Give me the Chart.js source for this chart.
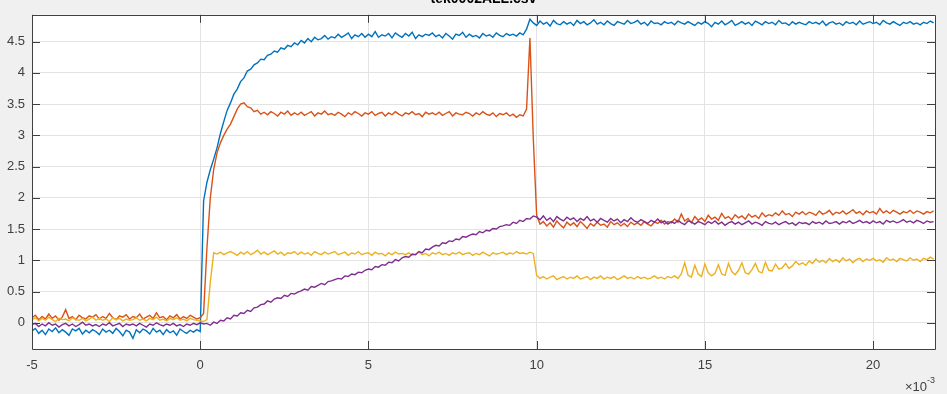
<!DOCTYPE html>
<html>
<head>
<meta charset="utf-8">
<title>tek0002ALL.csv</title>
<script src="https://cdn.jsdelivr.net/npm/chart.js@4.4.1/dist/chart.umd.min.js"></script>
<style>
  html, body { margin: 0; padding: 0; background: #f0f0f0; }
  #wrap { width: 947px; height: 394px; }
</style>
</head>
<body>
<div id="wrap"><canvas id="scope" width="947" height="394"></canvas></div>
<script>
// sample times in ms (axis shows them as x 10^-3 s)
const timeMs = [
  -5.0,-4.9,-4.8,-4.7,-4.6,-4.5,-4.4,-4.3,-4.2,-4.1,
  -4.0,-3.9,-3.8,-3.7,-3.6,-3.5,-3.4,-3.3,-3.2,-3.1,
  -3.0,-2.9,-2.8,-2.7,-2.6,-2.5,-2.4,-2.3,-2.2,-2.1,
  -2.0,-1.9,-1.8,-1.7,-1.6,-1.5,-1.4,-1.3,-1.2,-1.1,
  -1.0,-0.9,-0.8,-0.7,-0.6,-0.5,-0.4,-0.3,-0.2,-0.1,
  0.0,0.1,0.2,0.3,0.4,0.5,0.6,0.7,0.8,0.9,
  1.0,1.1,1.2,1.3,1.4,1.5,1.6,1.7,1.8,1.9,
  2.0,2.1,2.2,2.3,2.4,2.5,2.6,2.7,2.8,2.9,
  3.0,3.1,3.2,3.3,3.4,3.5,3.6,3.7,3.8,3.9,
  4.0,4.1,4.2,4.3,4.4,4.5,4.6,4.7,4.8,4.9,
  5.0,5.1,5.2,5.3,5.4,5.5,5.6,5.7,5.8,5.9,
  6.0,6.1,6.2,6.3,6.4,6.5,6.6,6.7,6.8,6.9,
  7.0,7.1,7.2,7.3,7.4,7.5,7.6,7.7,7.8,7.9,
  8.0,8.1,8.2,8.3,8.4,8.5,8.6,8.7,8.8,8.9,
  9.0,9.1,9.2,9.3,9.4,9.5,9.6,9.7,9.8,9.9,
  10.0,10.1,10.2,10.3,10.4,10.5,10.6,10.7,10.8,10.9,
  11.0,11.1,11.2,11.3,11.4,11.5,11.6,11.7,11.8,11.9,
  12.0,12.1,12.2,12.3,12.4,12.5,12.6,12.7,12.8,12.9,
  13.0,13.1,13.2,13.3,13.4,13.5,13.6,13.7,13.8,13.9,
  14.0,14.1,14.2,14.3,14.4,14.5,14.6,14.7,14.8,14.9,
  15.0,15.1,15.2,15.3,15.4,15.5,15.6,15.7,15.8,15.9,
  16.0,16.1,16.2,16.3,16.4,16.5,16.6,16.7,16.8,16.9,
  17.0,17.1,17.2,17.3,17.4,17.5,17.6,17.7,17.8,17.9,
  18.0,18.1,18.2,18.3,18.4,18.5,18.6,18.7,18.8,18.9,
  19.0,19.1,19.2,19.3,19.4,19.5,19.6,19.7,19.8,19.9,
  20.0,20.1,20.2,20.3,20.4,20.5,20.6,20.7,20.8,20.9,
  21.0,21.1,21.2,21.3,21.4,21.5,21.6,21.7,21.8
];

const ch1 = [
  -0.13,-0.09,-0.17,-0.12,-0.19,-0.10,-0.14,-0.08,-0.16,-0.11,
  -0.15,-0.20,-0.10,-0.13,-0.09,-0.18,-0.12,-0.16,-0.11,-0.14,
  -0.19,-0.10,-0.15,-0.12,-0.17,-0.09,-0.14,-0.21,-0.12,-0.15,
  -0.25,-0.11,-0.16,-0.10,-0.13,-0.18,-0.09,-0.15,-0.12,-0.19,
  -0.11,-0.16,-0.13,-0.20,-0.10,-0.14,-0.17,-0.12,-0.15,-0.11,
  -0.14,1.95,2.25,2.45,2.62,2.80,3.03,3.22,3.40,3.52,
  3.66,3.74,3.86,3.92,4.03,4.06,4.13,4.16,4.22,4.21,
  4.28,4.30,4.35,4.33,4.40,4.38,4.44,4.42,4.48,4.45,
  4.52,4.48,4.55,4.50,4.57,4.53,4.55,4.60,4.54,4.58,
  4.56,4.62,4.57,4.60,4.64,4.55,4.61,4.58,4.63,4.57,
  4.62,4.58,4.66,4.57,4.61,4.59,4.63,4.56,4.64,4.60,
  4.57,4.63,4.59,4.65,4.55,4.61,4.58,4.62,4.60,4.64,
  4.58,4.61,4.56,4.63,4.59,4.54,4.62,4.60,4.65,4.57,
  4.62,4.58,4.60,4.56,4.63,4.59,4.61,4.57,4.64,4.60,
  4.58,4.63,4.60,4.62,4.59,4.64,4.61,4.70,4.86,4.80,
  4.76,4.83,4.78,4.81,4.75,4.84,4.79,4.77,4.82,4.78,
  4.81,4.76,4.84,4.79,4.82,4.77,4.80,4.85,4.78,4.81,
  4.77,4.83,4.79,4.76,4.82,4.80,4.78,4.84,4.79,4.81,
  4.84,4.78,4.81,4.76,4.83,4.79,4.80,4.77,4.82,4.79,
  4.81,4.77,4.83,4.80,4.78,4.82,4.79,4.76,4.81,4.78,
  4.82,4.79,4.74,4.81,4.78,4.83,4.77,4.80,4.84,4.76,
  4.79,4.82,4.78,4.81,4.76,4.83,4.80,4.77,4.82,4.79,
  4.81,4.77,4.84,4.79,4.80,4.76,4.82,4.78,4.81,4.79,
  4.77,4.82,4.79,4.81,4.78,4.83,4.76,4.80,4.82,4.78,
  4.80,4.76,4.82,4.79,4.81,4.77,4.83,4.78,4.80,4.82,
  4.79,4.81,4.77,4.84,4.80,4.78,4.82,4.79,4.76,4.81,
  4.79,4.82,4.78,4.80,4.77,4.81,4.79,4.83,4.80
];

const ch2 = [
  0.08,0.12,0.05,0.10,0.06,0.14,0.07,0.11,0.04,0.09,
  0.21,0.07,0.10,0.05,0.12,0.08,0.06,0.11,0.09,0.13,
  0.06,0.10,0.07,0.15,0.08,0.05,0.11,0.09,0.13,0.06,
  0.10,0.08,0.14,0.06,0.09,0.12,0.07,0.16,0.08,0.10,
  0.05,0.11,0.08,0.13,0.06,0.10,0.07,0.12,0.09,0.06,
  0.08,0.15,1.20,2.00,2.45,2.72,2.88,3.00,3.10,3.18,
  3.30,3.42,3.50,3.52,3.46,3.44,3.38,3.40,3.34,3.37,
  3.33,3.38,3.35,3.31,3.37,3.34,3.39,3.32,3.36,3.33,
  3.37,3.32,3.35,3.38,3.31,3.36,3.34,3.39,3.33,3.35,
  3.32,3.37,3.34,3.30,3.36,3.33,3.38,3.35,3.31,3.36,
  3.34,3.38,3.32,3.35,3.37,3.31,3.36,3.33,3.38,3.34,
  3.31,3.36,3.34,3.38,3.33,3.35,3.30,3.37,3.34,3.36,
  3.33,3.37,3.32,3.35,3.38,3.31,3.36,3.34,3.33,3.37,
  3.35,3.31,3.36,3.33,3.38,3.34,3.32,3.36,3.30,3.35,
  3.33,3.36,3.31,3.34,3.29,3.33,3.31,3.42,4.56,2.95,
  1.72,1.58,1.62,1.55,1.60,1.53,1.63,1.57,1.52,1.61,
  1.56,1.60,1.54,1.62,1.57,1.51,1.59,1.55,1.61,1.56,
  1.58,1.53,1.62,1.57,1.60,1.55,1.59,1.54,1.61,1.57,
  1.60,1.56,1.62,1.58,1.55,1.61,1.59,1.64,1.58,1.62,
  1.60,1.66,1.61,1.74,1.63,1.67,1.60,1.70,1.64,1.68,
  1.62,1.72,1.66,1.69,1.64,1.75,1.67,1.70,1.65,1.73,
  1.68,1.71,1.66,1.74,1.69,1.72,1.67,1.76,1.70,1.73,
  1.71,1.76,1.72,1.79,1.73,1.75,1.70,1.77,1.74,1.78,
  1.73,1.77,1.75,1.72,1.79,1.74,1.76,1.80,1.73,1.77,
  1.75,1.79,1.74,1.77,1.81,1.75,1.78,1.73,1.79,1.76,
  1.78,1.74,1.83,1.76,1.79,1.75,1.80,1.77,1.74,1.78,
  1.76,1.80,1.75,1.79,1.77,1.74,1.78,1.76,1.79
];

const ch3 = [
  0.05,0.08,0.03,0.07,0.04,0.09,0.05,0.02,0.07,0.05,
  0.06,0.03,0.08,0.05,0.04,0.07,0.03,0.06,0.09,0.04,
  0.07,0.04,0.06,0.02,0.08,0.05,0.07,0.03,0.06,0.04,
  0.05,0.08,0.04,0.06,0.03,0.07,0.05,0.09,0.04,0.06,
  0.03,0.07,0.05,0.08,0.04,0.06,0.03,0.07,0.05,0.04,
  0.03,0.02,0.05,0.65,1.12,1.10,1.13,1.09,1.12,1.14,
  1.11,1.08,1.13,1.10,1.14,1.09,1.12,1.16,1.10,1.13,
  1.09,1.12,1.15,1.10,1.13,1.08,1.12,1.11,1.14,1.09,
  1.13,1.10,1.12,1.08,1.14,1.11,1.09,1.13,1.10,1.12,
  1.14,1.09,1.11,1.13,1.08,1.12,1.10,1.14,1.09,1.11,
  1.12,1.08,1.13,1.10,1.11,1.07,1.12,1.09,1.13,1.10,
  1.11,1.09,1.12,1.08,1.10,1.13,1.09,1.11,1.07,1.12,
  1.10,1.13,1.09,1.11,1.08,1.12,1.10,1.13,1.09,1.11,
  1.12,1.08,1.11,1.09,1.13,1.10,1.07,1.12,1.10,1.11,
  1.13,1.09,1.12,1.10,1.14,1.11,1.12,1.10,1.13,1.11,
  0.76,0.71,0.74,0.70,0.73,0.75,0.69,0.72,0.74,0.70,
  0.73,0.71,0.75,0.70,0.72,0.74,0.69,0.73,0.71,0.75,
  0.70,0.73,0.71,0.74,0.69,0.72,0.75,0.71,0.73,0.70,
  0.74,0.71,0.73,0.70,0.72,0.75,0.71,0.73,0.70,0.74,
  0.72,0.75,0.71,0.78,0.96,0.76,0.73,0.92,0.78,0.74,
  0.94,0.80,0.75,0.79,0.93,0.78,0.76,0.95,0.82,0.77,
  0.84,0.96,0.80,0.78,0.85,0.95,0.82,0.80,0.97,0.84,
  0.83,0.94,0.86,0.88,0.95,0.87,0.91,0.98,0.93,0.96,
  0.92,0.99,0.95,1.02,0.97,1.00,0.96,1.03,0.98,1.01,
  0.97,1.04,0.99,1.02,0.96,1.01,1.03,0.98,1.02,1.00,
  1.03,0.99,1.01,0.97,1.04,1.00,1.02,0.98,1.03,1.01,
  0.99,1.04,1.00,1.02,0.98,1.03,1.01,1.05,1.02
];

const ch4 = [
  -0.03,-0.01,-0.06,-0.02,-0.05,0.00,-0.04,-0.02,-0.07,-0.03,
  -0.01,-0.05,-0.02,-0.06,-0.03,0.01,-0.04,-0.02,-0.05,-0.03,
  -0.06,-0.02,-0.04,0.00,-0.05,-0.03,-0.01,-0.06,-0.02,-0.04,
  -0.02,-0.05,-0.01,-0.04,-0.07,-0.02,-0.04,0.00,-0.03,-0.05,
  -0.02,-0.04,-0.01,-0.05,-0.03,-0.06,-0.02,-0.04,-0.01,-0.03,
  0.00,-0.02,-0.01,-0.04,0.01,-0.01,0.04,0.03,0.08,0.06,
  0.12,0.11,0.16,0.15,0.20,0.18,0.24,0.25,0.29,0.30,
  0.35,0.33,0.38,0.40,0.39,0.44,0.42,0.47,0.46,0.49,
  0.51,0.54,0.52,0.58,0.57,0.60,0.63,0.61,0.66,0.67,
  0.69,0.71,0.70,0.75,0.74,0.78,0.77,0.81,0.80,0.84,
  0.86,0.85,0.90,0.89,0.93,0.92,0.97,0.96,1.01,0.99,
  1.04,1.06,1.05,1.10,1.09,1.14,1.12,1.18,1.17,1.21,
  1.24,1.23,1.28,1.27,1.31,1.30,1.34,1.33,1.38,1.37,
  1.40,1.42,1.41,1.46,1.44,1.48,1.47,1.51,1.50,1.54,
  1.55,1.57,1.56,1.61,1.59,1.64,1.62,1.67,1.66,1.71,
  1.69,1.65,1.71,1.64,1.68,1.62,1.70,1.66,1.63,1.69,
  1.65,1.68,1.62,1.67,1.64,1.70,1.63,1.66,1.61,1.67,
  1.64,1.61,1.67,1.63,1.66,1.60,1.65,1.62,1.68,1.63,
  1.61,1.65,1.62,1.59,1.64,1.61,1.66,1.60,1.63,1.58,
  1.62,1.59,1.64,1.60,1.57,1.63,1.61,1.58,1.62,1.60,
  1.57,1.62,1.59,1.63,1.58,1.61,1.56,1.60,1.62,1.58,
  1.61,1.57,1.60,1.63,1.58,1.61,1.59,1.56,1.62,1.59,
  1.58,1.61,1.57,1.60,1.62,1.58,1.60,1.56,1.61,1.59,
  1.60,1.57,1.62,1.59,1.61,1.58,1.63,1.59,1.60,1.62,
  1.58,1.62,1.60,1.63,1.59,1.61,1.64,1.60,1.62,1.59,
  1.63,1.60,1.62,1.58,1.64,1.61,1.63,1.60,1.62,1.65,
  1.61,1.63,1.60,1.64,1.62,1.59,1.63,1.61,1.62
];

const xTicks = [-5, 0, 5, 10, 15, 20];
const yTicks = [0, 0.5, 1, 1.5, 2, 2.5, 3, 3.5, 4, 4.5];
const plotTitle = 'tek0002ALL.csv';
const xExponent = '-3';

const textColor = '#404040';
const tickFont = { family: 'Liberation Sans, Arial, sans-serif', size: 13 };

function pts(vals) {
  return vals.map((v, i) => ({ x: timeMs[i], y: v }));
}

// white plot area, box with inward ticks, title and the x10^-3 label
const matlabAxes = {
  id: 'matlabAxes',
  beforeDraw(chart) {
    const { ctx, chartArea: a } = chart;
    ctx.save();
    ctx.fillStyle = '#ffffff';
    ctx.fillRect(a.left, a.top, a.right - a.left, a.bottom - a.top);
    ctx.restore();
  },
  afterDraw(chart) {
    const { ctx, chartArea: a, scales } = chart;
    const len = 8;
    ctx.save();
    ctx.strokeStyle = '#404040';
    ctx.lineWidth = 1;
    ctx.beginPath();
    ctx.rect(Math.round(a.left) + 0.5, Math.round(a.top) + 0.5,
             Math.round(a.right - a.left), Math.round(a.bottom - a.top));
    xTicks.forEach(t => {
      const px = Math.round(scales.x.getPixelForValue(t)) + 0.5;
      ctx.moveTo(px, a.bottom); ctx.lineTo(px, a.bottom - len);
      ctx.moveTo(px, a.top); ctx.lineTo(px, a.top + len);
    });
    yTicks.forEach(t => {
      const py = Math.round(scales.y.getPixelForValue(t)) + 0.5;
      ctx.moveTo(a.left, py); ctx.lineTo(a.left + len, py);
      ctx.moveTo(a.right, py); ctx.lineTo(a.right - len, py);
    });
    ctx.stroke();

    ctx.fillStyle = '#000000';
    ctx.font = 'bold 14px Liberation Sans, Arial, sans-serif';
    ctx.textAlign = 'center';
    ctx.textBaseline = 'alphabetic';
    ctx.fillText(plotTitle, (a.left + a.right) / 2, 3);

    ctx.fillStyle = textColor;
    ctx.textAlign = 'right';
    ctx.font = '9px Liberation Sans, Arial, sans-serif';
    const supW = ctx.measureText(xExponent).width;
    ctx.fillText(xExponent, a.right, 383);
    ctx.font = '13px Liberation Sans, Arial, sans-serif';
    ctx.fillText('\u00d710', a.right - supW, 391);
    ctx.restore();
  }
};

new Chart(document.getElementById('scope'), {
  type: 'line',
  data: {
    datasets: [
      { label: 'CH1', data: pts(ch1), borderColor: '#0072BD', order: 4 },
      { label: 'CH2', data: pts(ch2), borderColor: '#D95319', order: 3 },
      { label: 'CH3', data: pts(ch3), borderColor: '#EDB120', order: 2 },
      { label: 'CH4', data: pts(ch4), borderColor: '#7E2F8E', order: 1 }
    ]
  },
  options: {
    responsive: false,
    animation: false,
    events: [],
    layout: { padding: { left: 0, top: 7, right: 12, bottom: 0 } },
    elements: {
      line: { borderWidth: 1.4, tension: 0, fill: false },
      point: { radius: 0 }
    },
    plugins: {
      legend: { display: false },
      tooltip: { enabled: false },
      title: { display: false }
    },
    scales: {
      x: {
        type: 'linear',
        min: -5,
        max: 21.84,
        afterBuildTicks: s => { s.ticks = xTicks.map(v => ({ value: v })); },
        afterFit: s => { s.height = 45; },
        grid: { color: '#e3e3e3', drawTicks: false },
        border: { display: false },
        ticks: { padding: 9, color: textColor, font: tickFont, maxRotation: 0,
                 callback: v => String(v) }
      },
      y: {
        type: 'linear',
        min: -0.42,
        max: 4.93,
        afterBuildTicks: s => { s.ticks = yTicks.map(v => ({ value: v })); },
        afterFit: s => { s.width = 32; },
        grid: { color: '#e3e3e3', drawTicks: false },
        border: { display: false },
        ticks: { padding: 7, color: textColor, font: tickFont,
                 callback: v => String(v) }
      }
    }
  },
  plugins: [matlabAxes]
});
</script>
</body>
</html>
